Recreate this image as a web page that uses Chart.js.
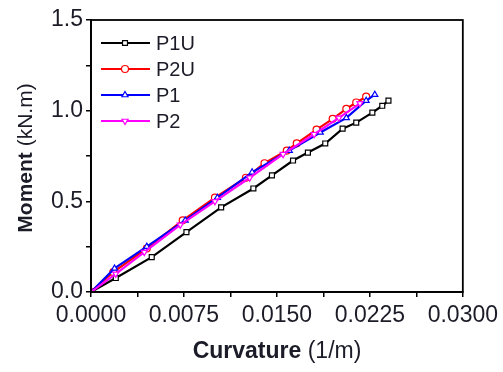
<!DOCTYPE html>
<html>
<head>
<meta charset="utf-8">
<script src="https://cdn.jsdelivr.net/npm/chart.js@4"></script>
<style>
  html, body { margin: 0; padding: 0; background: #fff; }
  canvas { display: block; }
</style>
</head>
<body>
<canvas id="chart" width="503" height="372"></canvas>
<script>
// Moment-curvature data
const seriesNames = ['P1U', 'P2U', 'P1', 'P2'];

const p1uCurv = [0, 0.0020, 0.0049, 0.0077, 0.0105, 0.0131, 0.0146, 0.0163, 0.0175, 0.0189, 0.0203, 0.0214, 0.0227, 0.0235, 0.0240];
const p1uMom  = [0, 0.077, 0.192, 0.330, 0.467, 0.571, 0.643, 0.725, 0.769, 0.819, 0.901, 0.934, 0.989, 1.027, 1.055];

const p2uCurv = [0, 0.0018, 0.0045, 0.0074, 0.0100, 0.0125, 0.0140, 0.0158, 0.0166, 0.0182, 0.0195, 0.0206, 0.0214, 0.0222];
const p2uMom  = [0, 0.110, 0.240, 0.395, 0.520, 0.630, 0.710, 0.780, 0.820, 0.895, 0.955, 1.010, 1.045, 1.077];

const p1Curv = [0, 0.0019, 0.0045, 0.0076, 0.0102, 0.0130, 0.0160, 0.0185, 0.0206, 0.0222, 0.0229];
const p1Mom  = [0, 0.130, 0.250, 0.395, 0.520, 0.660, 0.780, 0.880, 0.960, 1.055, 1.088];

const p2Curv = [0, 0.0020, 0.0043, 0.0072, 0.0100, 0.0128, 0.0155, 0.0180, 0.0200, 0.0217];
const p2Mom  = [0, 0.100, 0.220, 0.370, 0.500, 0.630, 0.760, 0.870, 0.960, 1.040];

const xMajorTicks = [0, 0.0075, 0.015, 0.0225, 0.03];
const yMajorTicks = [0, 0.5, 1.0, 1.5];

const FONT = '"Liberation Sans", Arial, sans-serif';
const INK = '#1c1c28';

function toPoints(xs, ys) {
  return xs.map((x, i) => ({ x: x, y: ys[i] }));
}

function makeSet(label, xs, ys, color, style, rot, order) {
  return {
    label: label,
    data: toPoints(xs, ys),
    showLine: true,
    borderColor: color,
    borderWidth: 2.2,
    pointStyle: style,
    pointRotation: rot,
    pointRadius: 3.5,
    pointBorderWidth: 1.2,
    pointBorderColor: color,
    pointBackgroundColor: '#fff',
    tension: 0,
    order: order
  };
}

// frame, legend and axis titles
const extras = {
  id: 'extras',
  afterDraw(chart) {
    const ctx = chart.ctx;
    const a = chart.chartArea;
    ctx.save();
    ctx.strokeStyle = '#000';
    ctx.lineWidth = 1.8;
    ctx.strokeRect(a.left, a.top, a.right - a.left, a.bottom - a.top);

    // legend
    chart.data.datasets.forEach((ds, i) => {
      const y = 43 + i * 26;
      ctx.strokeStyle = ds.borderColor;
      ctx.lineWidth = 2;
      ctx.beginPath();
      ctx.moveTo(101, y);
      ctx.lineTo(150, y);
      ctx.stroke();
      ctx.fillStyle = '#fff';
      ctx.lineWidth = 1.2;
      Chart.helpers.drawPoint(ctx, {
        pointStyle: ds.pointStyle, rotation: ds.pointRotation,
        radius: 3.5, borderWidth: 1.2
      }, 125, y);
      ctx.fillStyle = INK;
      ctx.font = '20px ' + FONT;
      ctx.textAlign = 'left';
      ctx.textBaseline = 'middle';
      ctx.fillText(ds.label, 156, y + 1);
    });

    // x title
    ctx.fillStyle = INK;
    ctx.textBaseline = 'middle';
    ctx.textAlign = 'left';
    ctx.font = 'bold 23px ' + FONT;
    const w1 = ctx.measureText('Curvature ').width;
    ctx.font = '23px ' + FONT;
    const w2 = ctx.measureText('(1/m)').width;
    const sx = 277 - (w1 + w2) / 2;
    ctx.font = 'bold 23px ' + FONT;
    ctx.fillText('Curvature ', sx, 352);
    ctx.font = '23px ' + FONT;
    ctx.fillText('(1/m)', sx + w1, 352);

    // y title
    ctx.translate(26, 158);
    ctx.rotate(-Math.PI / 2);
    ctx.font = 'bold 21px ' + FONT;
    const v1 = ctx.measureText('Moment ').width;
    ctx.font = '21px ' + FONT;
    const v2 = ctx.measureText('(kN.m)').width;
    const sy = -(v1 + v2) / 2;
    ctx.font = 'bold 21px ' + FONT;
    ctx.fillText('Moment ', sy, 0);
    ctx.font = '21px ' + FONT;
    ctx.fillText('(kN.m)', sy + v1, 0);
    ctx.restore();
  }
};

new Chart(document.getElementById('chart'), {
  type: 'scatter',
  data: {
    datasets: [
      makeSet(seriesNames[0], p1uCurv, p1uMom, '#000000', 'rect', 0, 4),
      makeSet(seriesNames[1], p2uCurv, p2uMom, '#ff0000', 'circle', 0, 3),
      makeSet(seriesNames[2], p1Curv, p1Mom, '#0000ff', 'triangle', 0, 2),
      makeSet(seriesNames[3], p2Curv, p2Mom, '#ff00ff', 'triangle', 180, 1)
    ]
  },
  options: {
    responsive: false,
    animation: false,
    layout: { padding: { top: 20, right: 39, left: 0, bottom: 0 } },
    plugins: { legend: { display: false }, tooltip: { enabled: false } },
    scales: {
      x: {
        type: 'linear',
        min: 0, max: 0.03,
        afterFit(s) { s.height = 80; },
        afterBuildTicks(s) {
          s.ticks = [];
          for (let i = 0; i <= 8; i++) s.ticks.push({ value: i * 0.00375 });
        },
        grid: { drawOnChartArea: false, drawTicks: true, tickLength: 5, color: '#000', lineWidth: 1.5 },
        border: { color: '#000', width: 1.8 },
        ticks: {
          autoSkip: false, maxRotation: 0, minRotation: 0, padding: 5, color: INK,
          font: { size: 23, family: FONT },
          callback(v) {
            const m = xMajorTicks.find(t => Math.abs(t - v) < 1e-9);
            return m === undefined ? '' : m.toFixed(4);
          }
        }
      },
      y: {
        type: 'linear',
        min: 0, max: 1.5,
        afterFit(s) { s.width = 91; },
        afterBuildTicks(s) {
          s.ticks = [];
          for (let i = 0; i <= 6; i++) s.ticks.push({ value: i * 0.25 });
        },
        grid: { drawOnChartArea: false, drawTicks: true, tickLength: 5, color: '#000', lineWidth: 1.5 },
        border: { color: '#000', width: 1.8 },
        ticks: {
          autoSkip: false, padding: 3, color: INK,
          font: { size: 23, family: FONT },
          callback(v) {
            const m = yMajorTicks.find(t => Math.abs(t - v) < 1e-9);
            return m === undefined ? '' : m.toFixed(1);
          }
        }
      }
    }
  },
  plugins: [extras]
});
</script>
</body>
</html>
